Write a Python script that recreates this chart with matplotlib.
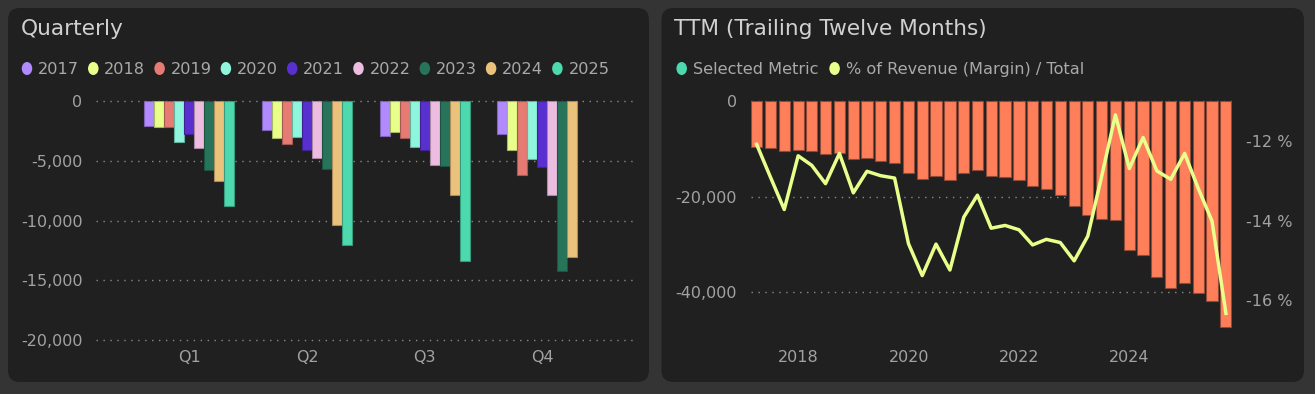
import numpy as np
import pandas as pd
import matplotlib
matplotlib.use("Agg")
import matplotlib.pyplot as plt
import matplotlib.dates as mdates
from matplotlib.patches import FancyBboxPatch, Ellipse
from matplotlib.ticker import FuncFormatter, FixedLocator
from matplotlib.colors import to_rgb
from datetime import datetime

# ---------------- data ----------------
quarters = ["Q1", "Q2", "Q3", "Q4"]
years = ["2017", "2018", "2019", "2020", "2021", "2022", "2023", "2024", "2025"]
year_colors = ["#b28aff", "#e8ff8c", "#e57b73", "#8ff5dc", "#5a2fcf",
               "#ecbde0", "#27745a", "#ebc27b", "#4dd9ad"]
q_2017 = [-2040, -2430, -2900, -2760]
q_2018 = [-2180, -3100, -2600, -4100]
q_2019 = [-2150, -3600, -3100, -6170]
q_2020 = [-3380, -2960, -3850, -4830]
q_2021 = [-2760, -4100, -4100, -5500]
q_2022 = [-3890, -4770, -5300, -7870]
q_2023 = [-5730, -5700, -5390, -14240]
q_2024 = [-6700, -10330, -7870, -13040]
q_2025 = [-8790, -12030, -13370, np.nan]
quarterly = [q_2017, q_2018, q_2019, q_2020, q_2021, q_2022, q_2023, q_2024, q_2025]

ttm_start, ttm_periods = "2017-03-31", 35
ttm_values = [-9570, -9710, -10340, -10270, -10410, -10970, -10760, -12020, -11940,
              -12500, -12920, -15020, -16340, -15640, -16420, -15020, -14450, -15640,
              -15920, -16550, -17670, -18370, -19560, -21860, -23750, -24650, -24790,
              -31200, -32110, -36730, -39160, -37990, -40080, -41760, -47270]
ttm_margin = [-12.08, -12.90, -13.72, -12.37, -12.61, -13.07, -12.31, -13.30, -12.76,
              -12.87, -12.93, -14.58, -15.38, -14.59, -15.24, -13.91, -13.36, -14.19,
              -14.12, -14.23, -14.61, -14.47, -14.55, -15.01, -14.39, -12.90, -11.34,
              -12.69, -11.91, -12.75, -12.96, -12.31, -13.19, -14.01, -16.33]
ttm_series = ["Selected Metric", "% of Revenue (Margin) / Total"]
ttm_colors = ["#4dd9ad", "#e8ff8c"]
bar_color = "#ff7f5a"
year_ticks = [2018, 2020, 2022, 2024]

# ---------------- style ----------------
W, H = 1315, 394
OUTER = "#343434"
PANEL = "#202020"
TITLE_C = "#d0d0d0"
LEG_C = "#a9a9a9"
TICK_C = "#a2a2a2"
GRID_C = "#8a8a8a"
FONT = "DejaVu Sans"
plt.rcParams["font.family"] = [FONT]


def fx(x):
    return x / W


def fy(y):
    return 1 - y / H


def darken(c, f=0.72):
    r, g, b = to_rgb(c)
    return (r * f, g * f, b * f)


fig = plt.figure(figsize=(W / 100, H / 100), dpi=100)
fig.patch.set_facecolor(OUTER)

bg = fig.add_axes([0, 0, 1, 1])
bg.set_xlim(0, W)
bg.set_ylim(H, 0)
bg.axis("off")
bg.set_zorder(0)

r = 12
for (x0, x1) in [(8, 649), (661.5, 1304)]:
    y0, y1 = 8, 382
    bg.add_patch(FancyBboxPatch((x0 + r, y0 + r), (x1 - x0) - 2 * r, (y1 - y0) - 2 * r,
                                boxstyle=f"round,pad={r}", facecolor=PANEL,
                                edgecolor="none"))

# titles
bg.text(20.5, 35, "Quarterly", fontsize=15.6, color=TITLE_C, va="baseline", ha="left")
bg.text(674.5, 35, "TTM (Trailing Twelve Months)", fontsize=15.6, color=TITLE_C,
        va="baseline", ha="left")

# legends
leg_y = 68.5
for i, (lab, c) in enumerate(zip(years, year_colors)):
    cx = 27 + 66.3 * i
    bg.add_patch(Ellipse((cx, leg_y), 10.5, 13, facecolor=c, edgecolor="none"))
    bg.text(cx + 11, 74, lab, fontsize=11.6, color=LEG_C, va="baseline", ha="left")
for cx, lab, c in zip([681.7, 834.6], ttm_series, ttm_colors):
    bg.add_patch(Ellipse((cx, leg_y), 10.5, 13, facecolor=c, edgecolor="none"))
    bg.text(cx + 11, 74, lab, fontsize=11.6, color=LEG_C, va="baseline", ha="left")

grid_kw = dict(color=GRID_C, linestyle=(0, (1, 4)), linewidth=1.0)

# ---------------- left chart ----------------
ax1 = fig.add_axes([fx(96), fy(340), (634 - 96) / W, (340 - 101.3) / H])
ax1.set_zorder(2)
ax1.patch.set_alpha(0)
x = np.arange(len(quarters))
bw = 0.085
n = len(years)
for j, (vals, c) in enumerate(zip(quarterly, year_colors)):
    ax1.bar(x + (j - (n - 1) / 2) * bw, vals, width=bw, color=c,
            edgecolor=darken(c), linewidth=0.8, zorder=3)
ax1.set_xlim(-0.793, 3.778)
ax1.set_ylim(-20000, 0)
ax1.yaxis.set_major_locator(FixedLocator([0, -5000, -10000, -15000, -20000]))
ax1.yaxis.set_major_formatter(FuncFormatter(lambda v, _: f"{v:,.0f}"))
ax1.set_xticks(x)
ax1.set_xticklabels(quarters)
ax1.grid(axis="y", **grid_kw)
ax1.set_axisbelow(True)
for s in ax1.spines.values():
    s.set_visible(False)
ax1.tick_params(axis="both", length=0, colors=TICK_C, labelsize=11.5)
ax1.tick_params(axis="y", pad=9.8)
ax1.tick_params(axis="x", pad=7)
for gl in ax1.get_ygridlines():
    gl.set_clip_on(False)

# ---------------- right chart ----------------
dates = pd.date_range(ttm_start, periods=ttm_periods, freq="QE")
dnum = mdates.date2num(dates.to_pydatetime())
ax2 = fig.add_axes([fx(751), fy(340), (1231.5 - 751) / W, (340 - 101.3) / H])
ax2.set_zorder(2)
ax2.patch.set_alpha(0)
ax2.bar(dnum, ttm_values, width=74, color=bar_color, edgecolor="#8f4a38",
        linewidth=0.8, zorder=3)
ax2.set_xlim(dnum[0] - 37, dnum[-1] + 37)
ax2.set_ylim(-50000, 0)
ax2.yaxis.set_major_locator(FixedLocator([0, -20000, -40000]))
ax2.yaxis.set_major_formatter(FuncFormatter(lambda v, _: f"{v:,.0f}"))
ax2.set_xticks([mdates.date2num(datetime(y, 1, 1)) for y in year_ticks])
ax2.set_xticklabels([str(y) for y in year_ticks])
ax2.grid(axis="y", **grid_kw)
ax2.set_axisbelow(True)
for s in ax2.spines.values():
    s.set_visible(False)
ax2.tick_params(axis="both", length=0, colors=TICK_C, labelsize=11.5)
ax2.tick_params(axis="y", pad=10.2)
ax2.tick_params(axis="x", pad=7)
for gl in ax2.get_ygridlines():
    gl.set_clip_on(False)

ax2r = ax2.twinx()
ax2r.plot(dnum, ttm_margin, color=ttm_colors[1], linewidth=2.5, zorder=5)
ax2r.set_ylim(-17, -11)
ax2r.yaxis.set_major_locator(FixedLocator([-12, -14, -16]))
ax2r.yaxis.set_major_formatter(FuncFormatter(lambda v, _: f"{v:.0f} %"))
for s in ax2r.spines.values():
    s.set_visible(False)
ax2r.tick_params(axis="y", length=0, colors=TICK_C, labelsize=11.5, pad=10.2)

fig.savefig("out.png", dpi=100, facecolor=OUTER)
